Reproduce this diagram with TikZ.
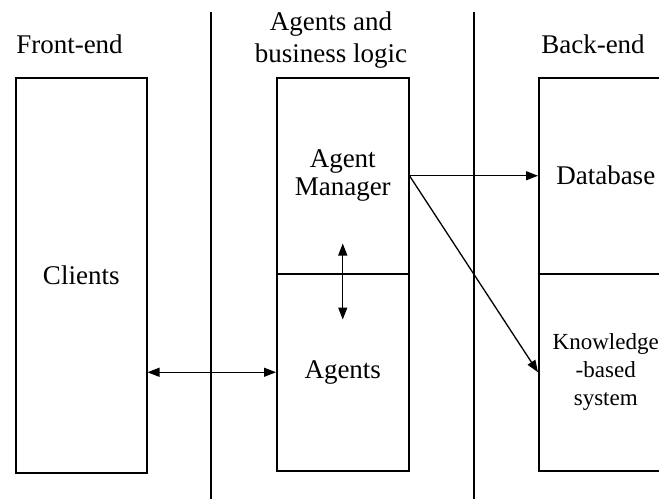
\documentclass[tikz,border=0pt]{standalone}
\usepackage{fontspec}
\setmainfont{Liberation Serif}
\usetikzlibrary{arrows.meta}
\begin{document}
\begin{tikzpicture}[x=1pt,y=-1pt,
  box/.style={draw,line width=1.5pt,rectangle,inner sep=0pt,anchor=north west,align=center,
    font=\fontsize{27}{28}\selectfont},
  small/.style={font=\fontsize{23}{28}\selectfont},
  head/.style={inner sep=0pt,align=center,font=\fontsize{27}{32}\selectfont},
  sep/.style={line width=1.4pt},
  link/.style={line width=1.3pt,-{Triangle[length=12pt,width=9pt]}},
  dlink/.style={line width=1.3pt,{Triangle[length=12pt,width=9pt]}-{Triangle[length=12pt,width=9pt]}}]
\useasboundingbox (0,0) rectangle (659,499);
% separators
\coordinate (s1t) at (211,12); \coordinate (s1b) at (211,499);
\coordinate (s2t) at (474,12); \coordinate (s2b) at (474,499);
\draw[sep] (s1t) -- (s1b);
\draw[sep] (s2t) -- (s2b);
% headers
\node[head,anchor=base] (hfront) at (69.5,53) {Front-end};
\node[head] (hmid) at (331,40) {Agents and\\business logic};
\node[head,anchor=base] (hback) at (593,53) {Back-end};
% boxes
\node[box,minimum width=131pt,minimum height=395pt] (clients) at (15,77) {Clients};
\node[box,minimum width=132pt,minimum height=196pt] (mgr) at (276,77) {Agent\\Manager};
\node[box,minimum width=132pt,minimum height=197pt] (agents) at (276,273) {Agents};
\node[box,minimum width=134pt,minimum height=196pt] (db) at (538,77) {Database};
\node[box,minimum width=134pt,minimum height=197pt,small] (kbs) at (538,273) {Knowledge\\-based\\system};
% connectors
\draw[link] (mgr.east) -- (db.west);
\draw[link] (mgr.east) -- (kbs.west);
\draw[dlink] ([yshift=31pt]mgr.south) -- ([yshift=-45pt]mgr.south);
\draw[dlink] (agents.west -| clients.east) -- (agents.west);
\end{tikzpicture}
\end{document}
